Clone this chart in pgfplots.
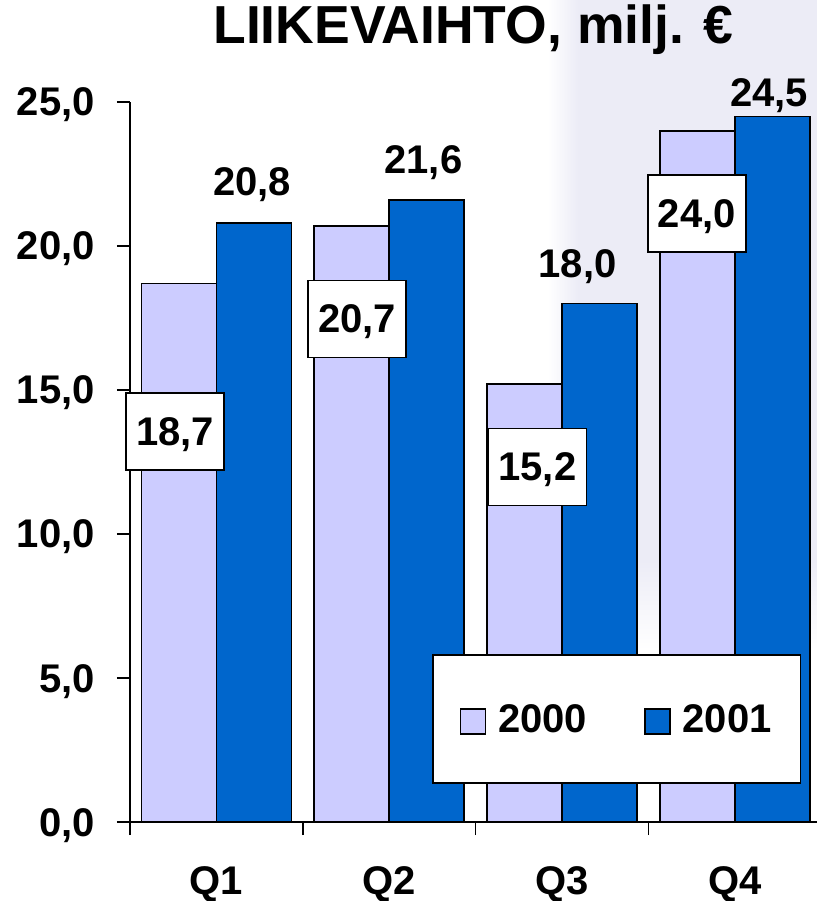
\documentclass[border=0pt]{standalone}
\usepackage{fontspec}
\setmainfont{Liberation Sans}
\usepackage{pgfplots}
\pgfplotsset{compat=1.18}

\definecolor{c2000}{HTML}{CCCCFF}
\definecolor{c2001}{HTML}{0066CC}
\definecolor{bgtex}{HTML}{ECECF6}
\newcommand{\chartfont}{\fontsize{40}{48}\selectfont\bfseries}
\newcommand{\titlefont}{\fontsize{53.5}{60}\selectfont\bfseries}

\pgfplotsset{sqlegend/.style={legend image code/.code={\draw[##1, line width=1.5pt] (0pt,-15pt) rectangle (25pt,10pt);}}}

\pgfplotstableread{
x y v
-0.2396 13.56 18.7
0.8137 17.47 20.7
1.858 12.33 15.2
2.781 21.13 24.0
}\boxlabels

\pgfplotstableread{
x y v
0.206 21.77 20.8
1.198 22.53 21.6
2.090 18.89 18.0
3.198 24.83 24.5
}\toplabels

\begin{document}
\begin{tikzpicture}
% faint backdrop texture in the upper right corner
\fill[bgtex] (448pt,262pt) rectangle (687pt,822pt);
\shade[left color=white, right color=bgtex] (418pt,262pt) rectangle (448pt,822pt);
\shade[top color=bgtex, bottom color=white] (448pt,172pt) rectangle (687pt,262pt);
\begin{axis}[
  at={(0pt,0pt)}, anchor=south west,
  scale only axis, width=687pt, height=720pt,
  xmin=-0.5, xmax=3.476, ymin=0, ymax=25,
  clip=false,
  axis x line=bottom, axis y line=left,
  axis line style={-, line width=1.5pt, black},
  /pgf/number format/assume math mode=true,
  ytick={0,5,10,15,20,25},
  yticklabel style={font=\chartfont, inner sep=0pt, anchor=base east, yshift=-14pt, xshift=-22pt,
    /pgf/number format/.cd, fixed, fixed zerofill, precision=1, use comma},
  xtick={-0.5,0.5,1.5,2.5}, xticklabels={},
  extra x ticks={0,1,2,3}, extra x tick labels={Q1,Q2,Q3,Q4},
  extra x tick style={major tick length=0pt,
    xticklabel style={font=\chartfont, inner sep=0pt, anchor=base, yshift=-72pt}},
  tick align=outside,
  major tick length=13pt,
  tick style={black, line width=1.5pt},
  title={LIIKEVAIHTO, milj. €},
  title style={font=\titlefont, at={(0.5,1)}, anchor=base, yshift=52pt, inner sep=0pt},
  sqlegend,
  legend columns=2,
  legend style={at={(0.4396,0.2333)}, anchor=north west, draw=black, line width=1.5pt,
    fill=white, inner xsep=27pt, inner ysep=47.5pt, font=\chartfont,
    cells={inner sep=0pt}, column sep=10pt,
    /tikz/every even column/.append style={column sep=55pt}},
]
\addplot[ybar, bar width=75pt, bar shift=-37.5pt, fill=c2000, draw=black, line width=1.5pt]
  coordinates {(0,18.7) (1,20.7) (2,15.2) (3,24.0)};
\addlegendentry{2000}
\addplot[ybar, bar width=75pt, bar shift=37.5pt, fill=c2001, draw=black, line width=1.5pt]
  coordinates {(0,20.8) (1,21.6) (2,18.0) (3,24.5)};
\addlegendentry{2001}

\addplot[only marks, mark=none, forget plot, point meta=explicit,
  nodes near coords={\pgfmathprintnumber[fixed, fixed zerofill, precision=1, use comma]{\pgfplotspointmeta}},
  nodes near coords style={anchor=center, draw=black, fill=white, text=black, line width=1.5pt,
    minimum width=98pt, minimum height=77pt, inner sep=0pt, text depth=0pt, font=\chartfont}]
  table[x=x, y=y, meta=v] {\boxlabels};
\addplot[only marks, mark=none, forget plot, point meta=explicit,
  nodes near coords={\pgfmathprintnumber[fixed, fixed zerofill, precision=1, use comma]{\pgfplotspointmeta}},
  nodes near coords style={anchor=base, text=black, inner sep=0pt, font=\chartfont}]
  table[x=x, y=y, meta=v] {\toplabels};

\coordinate (bl) at (rel axis cs:0,0);
\coordinate (tr) at (rel axis cs:1,1);
\end{axis}
\pgfresetboundingbox
\path ([shift={(-130pt,-79pt)}]bl) rectangle ([shift={(0pt,102pt)}]tr);
\end{tikzpicture}
\end{document}
